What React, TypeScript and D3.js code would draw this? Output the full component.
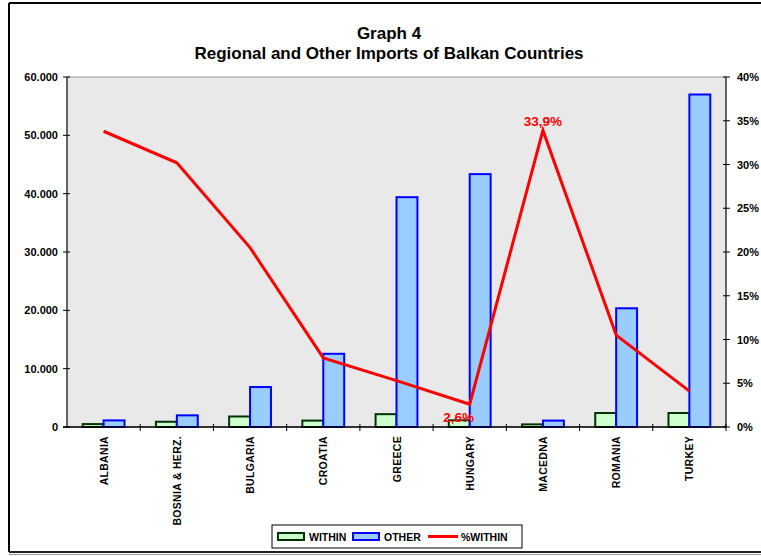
import React from "react";
import * as d3 from "d3";

const categories = ["ALBANIA", "BOSNIA & HERZ.", "BULGARIA", "CROATIA", "GREECE", "HUNGARY", "MACEDNA", "ROMANIA", "TURKEY"];
const withinValues = [500, 900, 1800, 1100, 2200, 1150, 450, 2400, 2400];
const otherValues = [1130, 2000, 6850, 12550, 39400, 43350, 1100, 20350, 57000];
const pctWithin = [33.8, 30.2, 20.5, 7.9, 5.3, 2.6, 33.9, 10.5, 4.1];
const leftTicks = [0, 10000, 20000, 30000, 40000, 50000, 60000];
const rightTicks = [0, 5, 10, 15, 20, 25, 30, 35, 40];
const labelTexts = ["33,9%", "2,6%"];

const W = 761, H = 556;
const L = 67, R = 726, T = 77, B = 427;
const FONT = "'Liberation Sans', Arial, sans-serif";

export default function App() {
  const x = d3.scaleBand<string>().domain(categories).range([L, R]).paddingInner(0).paddingOuter(0);
  const yL = d3.scaleLinear().domain([0, 60000]).range([B, T]);
  const yR = d3.scaleLinear().domain([0, 40]).range([B, T]);
  const bw = x.bandwidth() * (1 / 3.5);
  const cx = (c: string) => (x(c) as number) + x.bandwidth() / 2;
  const fmtLeft = (v: number) => (v === 0 ? "0" : `${v / 1000}.000`);
  const line = d3.line<number>().x((_, i) => cx(categories[i])).y((d) => yR(d));

  return (
    <svg width={W} height={H} style={{ position: "absolute", left: 0, top: 0, background: "#fff" }} fontFamily={FONT}>
      {/* outer frame */}
      <line x1={9} y1={3} x2={W + 5} y2={3} stroke="#000" strokeWidth={2} />
      <line x1={9} y1={3} x2={9} y2={552} stroke="#000" strokeWidth={2} />
      <line x1={9} y1={552} x2={W + 5} y2={552} stroke="#222" strokeWidth={2} />
      <line x1={9} y1={554.5} x2={W + 5} y2={554.5} stroke="#999" strokeWidth={1} />

      {/* title */}
      <text x={389} y={39} textAnchor="middle" fontWeight="bold" fontSize={17}>Graph 4</text>
      <text x={389} y={59} textAnchor="middle" fontWeight="bold" fontSize={17}>Regional and Other Imports of Balkan Countries</text>

      {/* plot background */}
      <rect x={L} y={T} width={R - L} height={B - T} fill="#e9e9e9" stroke="#9a9a9a" strokeWidth={1} />

      {/* bars */}
      {categories.map((c, i) => (
        <g key={c}>
          <rect x={cx(c) - bw} y={yL(withinValues[i])} width={bw} height={B - yL(withinValues[i])} fill="#ccffcc" stroke="#003300" strokeWidth={2} />
          <rect x={cx(c)} y={yL(otherValues[i])} width={bw} height={B - yL(otherValues[i])} fill="#99ccff" stroke="#0000ff" strokeWidth={2} />
        </g>
      ))}

      {/* line */}
      <path d={line(pctWithin) || ""} fill="none" stroke="#ff0000" strokeWidth={3} strokeLinejoin="miter" />

      {/* data labels */}
      <text x={cx(categories[6])} y={yR(pctWithin[6]) - 4} textAnchor="middle" fontWeight="bold" fontSize={13.5} fill="#ff0000">{labelTexts[0]}</text>
      <text x={cx(categories[5]) - 11} y={yR(pctWithin[5]) + 18} textAnchor="middle" fontWeight="bold" fontSize={13.5} fill="#ff0000">{labelTexts[1]}</text>

      {/* left axis */}
      <line x1={L} y1={T} x2={L} y2={B} stroke="#000" strokeWidth={1} />
      {leftTicks.map((t) => (
        <g key={t}>
          <line x1={L - 4} x2={L + 3} y1={yL(t)} y2={yL(t)} stroke="#000" />
          <text x={58} y={yL(t) + 4} textAnchor="end" fontWeight="bold" fontSize={11}>{fmtLeft(t)}</text>
        </g>
      ))}

      {/* right axis */}
      <line x1={R} y1={T} x2={R} y2={B} stroke="#000" strokeWidth={1} />
      {rightTicks.map((t) => (
        <g key={t}>
          <line x1={R - 3} x2={R + 4} y1={yR(t)} y2={yR(t)} stroke="#000" />
          <text x={737} y={yR(t) + 4} textAnchor="start" fontWeight="bold" fontSize={11}>{`${t}%`}</text>
        </g>
      ))}

      {/* bottom axis */}
      <line x1={L - 4} x2={R} y1={B} y2={B} stroke="#000" strokeWidth={1.5} />
      {categories.map((c) => (
        <line key={"t" + c} x1={(x(c) as number) + x.bandwidth()} x2={(x(c) as number) + x.bandwidth()} y1={B - 3} y2={B + 4} stroke="#000" />
      ))}
      {categories.map((c) => (
        <text key={"l" + c} transform={`translate(${cx(c) + 4},${436}) rotate(-90)`} textAnchor="end" fontWeight="bold" fontSize={10.5} letterSpacing={0.3}>{c}</text>
      ))}

      {/* legend */}
      <rect x={272} y={525} width={250} height={23} fill="#fff" stroke="#000" strokeWidth={1} />
      <rect x={278} y={533} width={26} height={7} fill="#ccffcc" stroke="#003300" strokeWidth={2} />
      <text x={309} y={541} fontWeight="bold" fontSize={10.5}>WITHIN</text>
      <rect x={353} y={533} width={26} height={7} fill="#99ccff" stroke="#0000ff" strokeWidth={2} />
      <text x={384} y={541} fontWeight="bold" fontSize={10.5}>OTHER</text>
      <line x1={428} x2={458} y1={536.5} y2={536.5} stroke="#ff0000" strokeWidth={3} />
      <text x={461} y={541} fontWeight="bold" fontSize={10.5}>%WITHIN</text>
    </svg>
  );
}
